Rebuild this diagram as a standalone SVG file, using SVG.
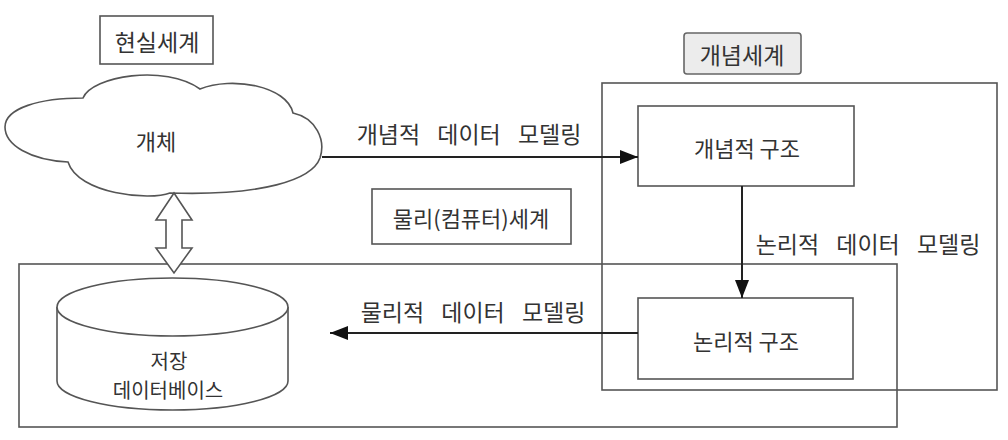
<svg xmlns="http://www.w3.org/2000/svg" width="1008" height="440" viewBox="0 0 1008 440">
<style>
.box{fill:none;stroke:#555;stroke-width:1.6}
.wbox{fill:#fff;stroke:#555;stroke-width:1.6}
.t{font-family:"Noto Sans CJK KR","Noto Sans",sans-serif;fill:#333;text-anchor:middle;dominant-baseline:central}
.lab{font-size:23px;word-spacing:12px}
.conn{stroke:#222;stroke-width:2;fill:none}
</style>
<defs>
<marker id="ah2" viewBox="0 0 18 14" refX="18" refY="7" markerWidth="18" markerHeight="14" markerUnits="userSpaceOnUse" orient="auto">
<path d="M0,0 L18,7 L0,14 Z" fill="#111"/>
</marker>
</defs>
<rect width="1008" height="440" fill="#fff"/>

<g id="physical-world">
<rect class="box" x="19" y="264" width="878" height="163"/>
</g>
<g id="conceptual-world">
<rect class="box" x="602" y="83" width="395" height="307"/>
</g>

<g id="label-real">
<rect class="box" x="100" y="16" width="113" height="48"/>
<text class="t" x="157" y="41" font-size="23">현실세계</text>
</g>
<g id="label-concept">
<rect x="684" y="33" width="117" height="41" rx="3" fill="#ececec" stroke="#666" stroke-width="1.6"/>
<text class="t" x="742" y="54" font-size="23">개념세계</text>
</g>
<g id="label-physical">
<rect class="box" x="372" y="189" width="199" height="55"/>
<text class="t" x="471" y="217" font-size="22">물리(컴퓨터)세계</text>
</g>

<g id="entity">
<path d="M68,162 C30,160 5,145 5,127 C5,108 40,98 83,98 C92,76 165,64 200,89 C232,76 287,86 293,113 C316,118 326,140 320,158 C312,180 262,196 170,193 C150,201 78,194 68,162 Z" fill="#fff" stroke="#555" stroke-width="1.6"/>
<text class="t" x="156" y="140" font-size="22">개체</text>
</g>

<g id="double-arrow">
<polygon points="174,193 192,220 182,220 182,248 192,248 174,273 156,248 166,248 166,220 156,220" fill="#fff" stroke="#555" stroke-width="1.6"/>
</g>

<g id="database">
<path d="M57,307 L57,381 A115.5,29 0 0 0 288,381 L288,307" fill="#fff" stroke="#555" stroke-width="1.6"/>
<ellipse cx="172.5" cy="307" rx="115.5" ry="29" fill="#fff" stroke="#555" stroke-width="1.6"/>
<text class="t" x="169" y="360" font-size="20">저장</text>
<text class="t" x="168" y="389" font-size="20">데이터베이스</text>
</g>

<g id="concept-structure">
<rect class="wbox" x="638" y="106" width="216" height="80"/>
<text class="t" x="747" y="147" font-size="22">개념적 구조</text>
</g>
<g id="logical-structure">
<rect class="wbox" x="638" y="298" width="215" height="81"/>
<text class="t" x="746" y="340" font-size="22">논리적 구조</text>
</g>

<g id="connectors">
<line class="conn" x1="322" y1="157" x2="638" y2="157" marker-end="url(#ah2)"/>
<line class="conn" x1="742" y1="186" x2="742" y2="298" marker-end="url(#ah2)"/>
<line class="conn" x1="638" y1="333" x2="330" y2="333" marker-end="url(#ah2)"/>
<text class="t lab" x="469" y="133">개념적 데이터 모델링</text>
<text class="t lab" x="868" y="243">논리적 데이터 모델링</text>
<text class="t lab" x="473" y="311">물리적 데이터 모델링</text>
</g>
</svg>
